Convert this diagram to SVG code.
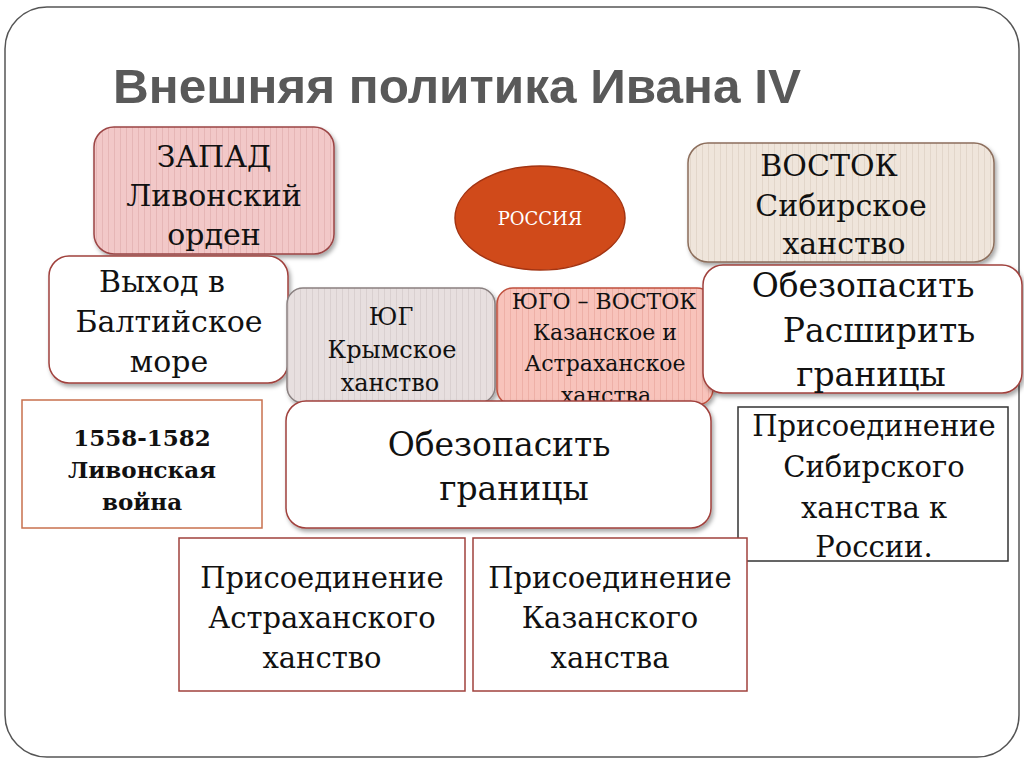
<svg xmlns="http://www.w3.org/2000/svg" width="1024" height="767" viewBox="0 0 1024 767">
<defs>
<style>
.t{font-family:"DejaVu Serif","Liberation Serif",serif;fill:#111;text-anchor:middle}
.b{font-weight:bold}
.wb{fill:#fff;stroke:#a0413c;stroke-width:1.5}
.sq{fill:#fff;stroke:#a0413c;stroke-width:1.5}
</style>
<pattern id="pPink" width="6" height="10" patternUnits="userSpaceOnUse"><rect width="6" height="10" fill="#f2c8c8"/><rect width="1" height="10" fill="#e6b6b6"/></pattern>
<pattern id="pBeige" width="6" height="10" patternUnits="userSpaceOnUse"><rect width="6" height="10" fill="#efe5db"/><rect width="1" height="10" fill="#e2d6ca"/></pattern>
<pattern id="pGray" width="6" height="10" patternUnits="userSpaceOnUse"><rect width="6" height="10" fill="#e7dfdf"/><rect width="1" height="10" fill="#d9d0d0"/></pattern>
<pattern id="pSalmon" width="6" height="10" patternUnits="userSpaceOnUse"><rect width="6" height="10" fill="#f8c3bb"/><rect width="1" height="10" fill="#eeb0a7"/></pattern>
<filter id="sh" x="-10%" y="-10%" width="130%" height="130%"><feDropShadow dx="2" dy="3" stdDeviation="2" flood-color="#000" flood-opacity="0.35"/></filter>
</defs>
<rect width="1024" height="767" fill="#fff"/>
<rect x="5" y="7" width="1014" height="750" rx="42" ry="42" fill="#fff" stroke="#555" stroke-width="1.5"/>
<text x="113" y="103" font-family="'Liberation Sans',Arial,sans-serif" font-weight="bold" font-size="49" fill="#595959" textLength="688" lengthAdjust="spacingAndGlyphs">Внешняя политика Ивана IV</text>

<g id="zapad">
<rect x="94" y="127" width="240" height="127" rx="20" fill="url(#pPink)" stroke="#9b4444" stroke-width="1.5" filter="url(#sh)"/>
<text class="t" font-size="30" x="214"><tspan x="214" y="167">ЗАПАД</tspan><tspan x="214" y="206">Ливонский</tspan><tspan x="214" y="245">орден</tspan></text>
</g>
<g id="vostok">
<rect x="688" y="143" width="306" height="119" rx="20" fill="url(#pBeige)" stroke="#8c6e5c" stroke-width="1.5" filter="url(#sh)"/>
<text class="t" font-size="30" x="840"><tspan x="829" y="176">ВОСТОК</tspan><tspan x="841" y="216">Сибирское</tspan><tspan x="844" y="254">ханство</tspan></text>
</g>
<g id="rossiya">
<ellipse cx="540" cy="218" rx="85" ry="52" fill="#d04a1a" stroke="#a33412" stroke-width="1.5"/>
<text class="t" font-size="18" x="540" y="225" fill="#fff" style="fill:#fff">РОССИЯ</text>
</g>
<g id="vyhod">
<rect x="49" y="256" width="239" height="127" rx="20" class="wb" filter="url(#sh)"/>
<text class="t" font-size="30"><tspan x="162" y="292">Выход в</tspan><tspan x="169" y="332">Балтийское</tspan><tspan x="169" y="372">море</tspan></text>
</g>
<g id="yug">
<rect x="287" y="288" width="208" height="115" rx="16" fill="url(#pGray)" stroke="#8a8080" stroke-width="1.5" filter="url(#sh)"/>
<text class="t" font-size="24"><tspan x="391" y="325">ЮГ</tspan><tspan x="392" y="358">Крымское</tspan><tspan x="390" y="391">ханство</tspan></text>
</g>
<g id="yugovostok">
<rect x="497" y="288" width="216" height="117" rx="16" fill="url(#pSalmon)" stroke="#c0503e" stroke-width="1.5" filter="url(#sh)"/>
<text class="t" font-size="22"><tspan x="604" y="309">ЮГО – ВОСТОК</tspan><tspan x="605" y="340">Казанское и</tspan><tspan x="605" y="371">Астраханское</tspan><tspan x="606" y="403">ханства</tspan></text>
</g>
<g id="obezR">
<rect x="703" y="265" width="319" height="128" rx="20" class="wb" filter="url(#sh)"/>
<text class="t" font-size="33"><tspan x="863" y="297">Обезопасить</tspan><tspan x="879" y="342">Расширить</tspan><tspan x="871" y="386">границы</tspan></text>
</g>
<g id="obezM">
<rect x="286" y="401" width="425" height="127" rx="20" class="wb" filter="url(#sh)"/>
<text class="t" font-size="33"><tspan x="499" y="456">Обезопасить</tspan><tspan x="514" y="500">границы</tspan></text>
</g>
<g id="livwar">
<rect x="22" y="400" width="240" height="128" fill="#fff" stroke="#c8704e" stroke-width="1.5"/>
<text class="t b" font-size="23"><tspan x="142" y="446">1558-1582</tspan><tspan x="142" y="478">Ливонская</tspan><tspan x="142" y="510">война</tspan></text>
</g>
<g id="sibir">
<rect x="738" y="407" width="270" height="154" fill="#fff" stroke="#333" stroke-width="1.5"/>
<text class="t" font-size="29"><tspan x="874" y="436">Присоединение</tspan><tspan x="874" y="477">Сибирского</tspan><tspan x="874" y="518">ханства к</tspan><tspan x="874" y="557">России.</tspan></text>
</g>
<g id="astrakhan">
<rect x="179" y="538" width="286" height="153" class="sq"/>
<text class="t" font-size="29"><tspan x="322" y="588">Присоединение</tspan><tspan x="322" y="628">Астраханского</tspan><tspan x="322" y="668">ханство</tspan></text>
</g>
<g id="kazan">
<rect x="473" y="538" width="274" height="153" class="sq"/>
<text class="t" font-size="29"><tspan x="610" y="588">Присоединение</tspan><tspan x="610" y="628">Казанского</tspan><tspan x="610" y="668">ханства</tspan></text>
</g>
<g id="connectors"></g>
</svg>
